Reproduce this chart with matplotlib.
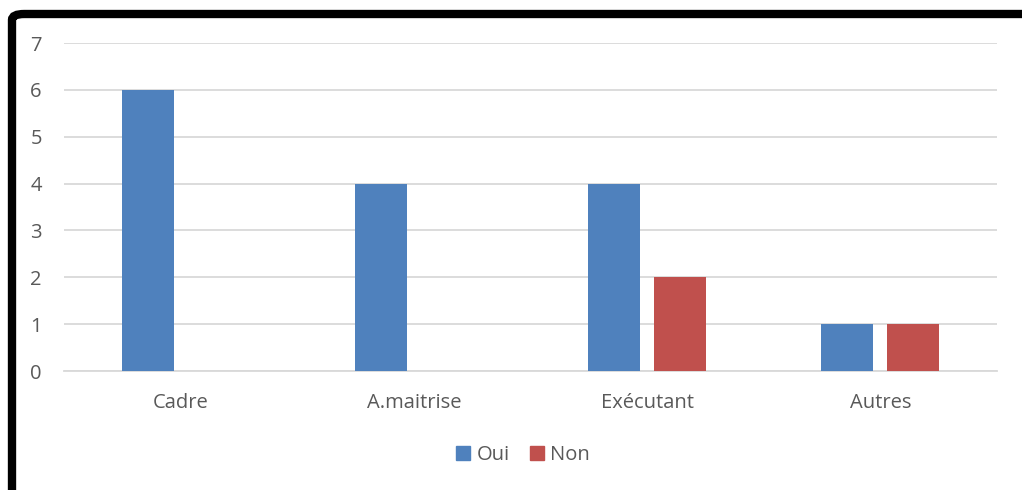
import matplotlib
matplotlib.use("Agg")
import matplotlib.pyplot as plt
from matplotlib.patches import FancyBboxPatch, Patch
import numpy as np

categories = ["Cadre", "A.maitrise", "Exécutant", "Autres"]
oui = [6, 4, 4, 1]
non = [0, 0, 2, 1]
yticks = [0, 1, 2, 3, 4, 5, 6, 7]

blue = "#4F81BD"
red = "#C0504D"
grid = "#D9D9D9"
text_col = "#595959"

plt.rcParams["font.family"] = ["Open Sans", "DejaVu Sans"]

fig = plt.figure(figsize=(10.22, 4.9), dpi=100)
W, H = 1022, 490

ax = fig.add_axes([64 / W, (H - 371) / H, (997 - 64) / W, (371 - 43) / H])

x = np.arange(len(categories))
bw = 0.223
off = 0.1415
ax.bar(x - off, oui, bw, color=blue, label="Oui", zorder=3)
ax.bar(x + off, non, bw, color=red, label="Non", zorder=3)

ax.set_xlim(-0.5, len(categories) - 0.5)
ax.set_ylim(0, 7)
ax.set_yticks(yticks)
ax.set_yticklabels([str(v) for v in yticks], fontsize=14.5, color=text_col)
ax.set_xticks(x)
ax.set_xticklabels(categories, fontsize=14.5, color=text_col)
ax.tick_params(axis="y", length=0, pad=16)
ax.tick_params(axis="x", length=0, pad=16)
ax.yaxis.grid(True, color=grid, linewidth=1.3, zorder=0)
for s in ["top", "right", "left"]:
    ax.spines[s].set_visible(False)
ax.spines["bottom"].set_color(grid)
ax.spines["bottom"].set_linewidth(1.3)
ax.set_facecolor("none")

handles = [Patch(color=blue, label="Oui"), Patch(color=red, label="Non")]
fig.legend(handles=handles, loc="center", bbox_to_anchor=(523 / W, (H - 455) / H),
           ncol=2, frameon=False, fontsize=14.5, handlelength=0.7, handleheight=0.7,
           handletextpad=0.3, columnspacing=1.0, labelcolor=text_col)

# Black frame around the chart area (open to the right and bottom)
frame = FancyBboxPatch((12 / W, -0.2), 1.3, (H - 14) / H + 0.2,
                       boxstyle="round,pad=0,rounding_size=0.012",
                       transform=fig.transFigure, facecolor="none",
                       edgecolor="black", linewidth=6, clip_on=True)
fig.patches.append(frame)

fig.savefig("out.png", dpi=100)
